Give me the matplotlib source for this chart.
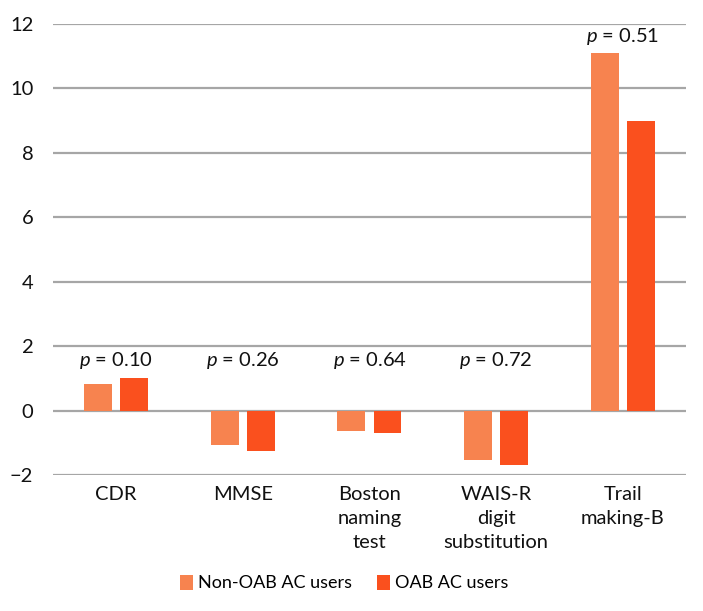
import matplotlib
matplotlib.use("Agg")
import matplotlib.pyplot as plt
import numpy as np

categories = ["CDR", "MMSE", "Boston\nnaming\ntest", "WAIS-R\ndigit\nsubstitution", "Trail\nmaking-B"]
non_oab = [0.84, -1.07, -0.62, -1.53, 11.1]
oab = [1.01, -1.27, -0.69, -1.69, 9.0]
p_labels = ["0.10", "0.26", "0.64", "0.72", "0.51"]
p_ypos = [1.55, 1.55, 1.55, 1.55, 11.6]
series_names = ["Non-OAB AC users", "OAB AC users"]

plt.rcParams['font.family'] = ['Lato', 'DejaVu Sans']
plt.rcParams['mathtext.fontset'] = 'custom'
plt.rcParams['mathtext.it'] = 'Lato:italic'
plt.rcParams['mathtext.rm'] = 'Lato'

fig = plt.figure(figsize=(7.03, 6.11), dpi=100)
ax = fig.add_axes([0.075, 0.2226, 0.901, 0.7381])

x = np.arange(len(categories))
w = 0.22
off = 0.143
c1 = "#F7834F"
c2 = "#FA501E"
ax.bar(x - off, non_oab, w, color=c1, label=series_names[0], zorder=3)
ax.bar(x + off, oab, w, color=c2, label=series_names[1], zorder=3)

for xi, lab, yp in zip(x, p_labels, p_ypos):
    ax.text(xi, yp, r"$p$ = " + lab, ha="center", va="center", fontsize=14.5, color="#111111")

ax.set_xlim(-0.5, len(categories) - 0.5)
ax.set_ylim(-2, 12)
ax.set_yticks(range(-2, 13, 2))
ax.set_yticklabels(["\u22122" if v < 0 else str(v) for v in range(-2, 13, 2)])
ax.set_xticks(x)
ax.set_xticklabels(categories, fontsize=14.5, linespacing=1.5, color="#111111")
ax.tick_params(axis="y", labelsize=14.5, length=0, pad=14, labelcolor="#111111")
ax.tick_params(axis="x", length=0, pad=8)
ax.yaxis.grid(True, color="#A6A6A6", linewidth=1.6, zorder=0)
ax.xaxis.grid(False)
for s in ax.spines.values():
    s.set_visible(False)
ax.set_axisbelow(True)

fig.legend(loc="center", bbox_to_anchor=(0.49, 0.046), ncol=2, frameon=False,
           fontsize=13, handlelength=0.7, handleheight=0.9, handletextpad=0.3,
           columnspacing=1.4)

fig.savefig("out.png", dpi=100, facecolor="white")
